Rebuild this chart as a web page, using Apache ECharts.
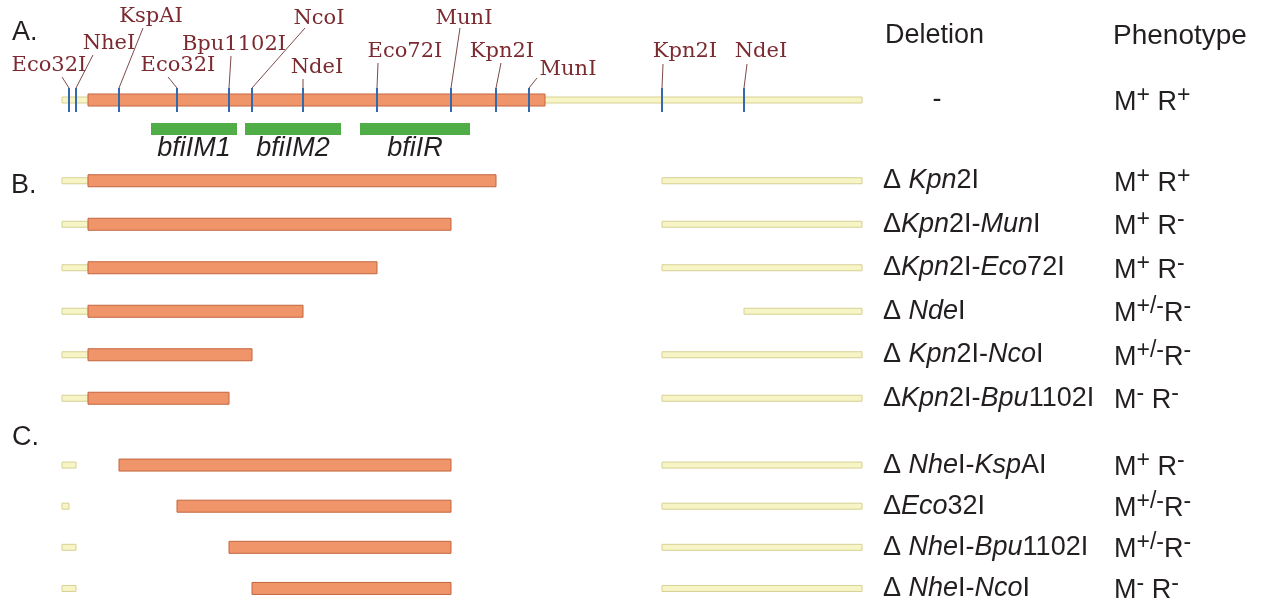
<!DOCTYPE html>
<html lang="en">
<head>
<meta charset="UTF-8">
<title>bfiI deletion map</title>
<style>
    html, body { margin: 0; padding: 0; background: #fff; }
    #chart { width: 1269px; height: 609px; }
</style>
</head>
<body>
<div id="chart"></div>
<script src="https://cdn.jsdelivr.net/npm/echarts@6/dist/echarts.min.js"></script>
<script>
// positions along the map, in bp (vector line runs 0..8000)
var vectorEnd = 8000;
var insertStart = 260, insertEnd = 4830;

var siteNames = ['Eco32I', 'NheI', 'KspAI', 'Eco32I', 'Bpu1102I', 'NcoI', 'NdeI', 'Eco72I', 'MunI', 'Kpn2I', 'MunI', 'Kpn2I', 'NdeI'];
var sitePos = [70, 140, 570, 1150, 1670, 1900, 2410, 3150, 3890, 4340, 4670, 6000, 6820];

var geneNames = ['bfiIM1', 'bfiIM2', 'bfiIR'];
var geneStart = [890, 1830, 2980];
var geneEnd = [1750, 2790, 4080];

// A: intact construct
var rowsA = ['{c|-}'];
var phenoA = [['+', '+']];

// B: deletions from the right end of the insert
var rowsB = ['Δ {i|Kpn}2I', 'Δ{i|Kpn}2I-{i|Mun}I', 'Δ{i|Kpn}2I-{i|Eco}72I', 'Δ {i|Nde}I', 'Δ {i|Kpn}2I-{i|Nco}I', 'Δ{i|Kpn}2I-{i|Bpu}1102I'];
var bInsertTo = [4340, 3890, 3150, 2410, 1900, 1670];
var bVectorFrom = [6000, 6000, 6000, 6820, 6000, 6000];
var phenoB = [['+', '+'], ['+', '-'], ['+', '-'], ['+/-', '-'], ['+/-', '-'], ['-', '-']];

// C: deletions from the left end (on top of MunI-Kpn2I)
var rowsC = ['Δ {i|Nhe}I-{i|Ksp}AI', 'Δ{i|Eco}32I', 'Δ {i|Nhe}I-{i|Bpu}1102I', 'Δ {i|Nhe}I-{i|Nco}I'];
var cVectorTo = [140, 70, 140, 140];
var cInsertFrom = [570, 1150, 1670, 1900];
var cInsertTo = 3890, cVectorFrom = 6000;
var phenoC = [['+', '-'], ['+/-', '-'], ['+/-', '-'], ['-', '-']];

// label placement for the restriction sites: [label dx, label dy, leader dx, leader dy]
var siteLabelLayout = [
    [-20, -34, -7, -23], [33, -56, 17, -45], [32, -83, 24, -72], [1, -34, -9, -23],
    [5, -55, 2, -44], [67, -81, 53, -72], [14, -32, 0, -21], [28, -48, 1, -37],
    [13, -81, 9, -72], [6, -48, 5, -37], [39, -30, 8, -22], [23, -48, 1, -36], [17, -48, 3, -36]
];

var sans = '"Liberation Sans", Arial, sans-serif';
var serif = '"DejaVu Serif", Georgia, serif';
var ink = '#231f20';

// build segments [from, to, row]
var vecA = [[0, vectorEnd, 0]], insA = [[insertStart, insertEnd, 0]];
var vecB = [], insB = [], vecC = [], insC = [];
for (var i = 0; i < rowsB.length; i++) {
    vecB.push([0, insertStart, i]);
    vecB.push([bVectorFrom[i], vectorEnd, i]);
    insB.push([insertStart, bInsertTo[i], i]);
}
for (var j = 0; j < rowsC.length; j++) {
    vecC.push([0, cVectorTo[j], j]);
    vecC.push([cVectorFrom, vectorEnd, j]);
    insC.push([cInsertFrom[j], cInsertTo, j]);
}

function barRender(h, fill, stroke) {
    return function (params, api) {
        var s = api.coord([api.value(0), api.value(2)]);
        var e = api.coord([api.value(1), api.value(2)]);
        return {
            type: 'rect',
            shape: {x: s[0], y: s[1] - h / 2, width: e[0] - s[0], height: h},
            style: {fill: fill, stroke: stroke, lineWidth: 1}
        };
    };
}

function segSeries(grid, data, kind) {
    var isIns = kind === 'insert';
    return {
        type: 'custom',
        xAxisIndex: grid,
        yAxisIndex: grid * 2,
        encode: {x: [0, 1], y: 2},
        z: isIns ? 3 : 2,
        renderItem: isIns ? barRender(12, '#f0956a', '#c2663f') : barRender(6, '#f7f4c6', '#d6d193'),
        data: data
    };
}

function phenoText(p) {
    var gap = p[0] === '+/-' ? '' : ' ';
    return '{m|M}{s|' + p[0] + '}{m|' + gap + 'R}{s|' + p[1] + '}';
}

function rowAxes(grid, names, phenos) {
    return [{
        gridIndex: grid, type: 'category', data: names, inverse: true, position: 'right',
        axisLine: {show: false}, axisTick: {show: false}, splitLine: {show: false},
        axisLabel: {
            interval: 0, margin: 21, align: 'left', color: ink, fontFamily: sans, fontSize: 27,
            rich: {
                i: {fontStyle: 'italic', fontFamily: sans, fontSize: 27, color: ink},
                c: {width: 108, align: 'center', fontFamily: sans, fontSize: 27, color: ink}
            }
        }
    }, {
        gridIndex: grid, type: 'category', data: names, inverse: true, position: 'right', offset: 252,
        axisLine: {show: false}, axisTick: {show: false}, splitLine: {show: false},
        axisLabel: {
            interval: 0, margin: 0, align: 'left',
            formatter: function (v, idx) { return phenoText(phenos[idx]); },
            rich: {
                m: {fontFamily: sans, fontSize: 27, color: ink, lineHeight: 32, verticalAlign: 'bottom'},
                s: {fontFamily: sans, fontSize: 23, color: ink, lineHeight: 14, verticalAlign: 'top'}
            }
        }
    }];
}

var sitesData = sitePos.map(function (p, k) { return [p, 0, k]; });
var genesData = geneStart.map(function (s, k) { return [s, geneEnd[k], 0, k]; });

var chart = echarts.init(document.getElementById('chart'));
var option = {
    backgroundColor: '#fff',
    animation: false,
    grid: [
        {left: 62, width: 800, top: 88, height: 24},
        {left: 62, width: 800, top: 159, height: 261},
        {left: 62, width: 800, top: 444.5, height: 172}
    ],
    xAxis: [0, 1, 2].map(function (g) {
        return {gridIndex: g, type: 'value', min: 0, max: vectorEnd, show: false};
    }),
    yAxis: [].concat(rowAxes(0, rowsA, phenoA), rowAxes(1, rowsB, phenoB), rowAxes(2, rowsC, phenoC)),
    graphic: [
        {type: 'text', x: 12, y: 33, style: {text: 'A.', font: '27px ' + sans, fill: ink, verticalAlign: 'middle'}},
        {type: 'text', x: 11, y: 186, style: {text: 'B.', font: '27px ' + sans, fill: ink, verticalAlign: 'middle'}},
        {type: 'text', x: 12, y: 438, style: {text: 'C.', font: '27px ' + sans, fill: ink, verticalAlign: 'middle'}},
        {type: 'text', x: 885, y: 36, style: {text: 'Deletion', font: '27px ' + sans, fill: ink, verticalAlign: 'middle'}},
        {type: 'text', x: 1113, y: 36, style: {text: 'Phenotype', font: '28px ' + sans, fill: ink, verticalAlign: 'middle'}}
    ],
    series: [
        segSeries(0, vecA, 'vector'),
        segSeries(0, insA, 'insert'),
        segSeries(1, vecB, 'vector'),
        segSeries(1, insB, 'insert'),
        segSeries(2, vecC, 'vector'),
        segSeries(2, insC, 'insert'),
        {
            // genes under the map
            type: 'custom', xAxisIndex: 0, yAxisIndex: 0, z: 3,
            encode: {x: [0, 1], y: 2},
            data: genesData,
            renderItem: function (params, api) {
                var s = api.coord([api.value(0), api.value(2)]);
                var e = api.coord([api.value(1), api.value(2)]);
                return {
                    type: 'group',
                    children: [{
                        type: 'rect',
                        shape: {x: s[0], y: s[1] + 23, width: e[0] - s[0], height: 12},
                        style: {fill: '#4fae47'}
                    }, {
                        type: 'text', x: (s[0] + e[0]) / 2, y: s[1] + 48,
                        style: {text: geneNames[api.value(3)], font: 'italic 27px ' + sans, fill: ink, align: 'center', verticalAlign: 'middle'}
                    }]
                };
            }
        },
        {
            // restriction sites
            type: 'custom', xAxisIndex: 0, yAxisIndex: 0, z: 4,
            encode: {x: 0, y: 1},
            data: sitesData,
            renderItem: function (params, api) {
                var p = api.coord([api.value(0), api.value(1)]);
                var L = siteLabelLayout[api.value(2)];
                return {
                    type: 'group',
                    children: [{
                        type: 'line',
                        shape: {x1: p[0], y1: p[1] - 12, x2: p[0], y2: p[1] + 12},
                        style: {stroke: '#3569ad', lineWidth: 2}
                    }, {
                        type: 'line',
                        shape: {x1: p[0], y1: p[1] - 12, x2: p[0] + L[2], y2: p[1] + L[3]},
                        style: {stroke: '#7d4b4b', lineWidth: 1}
                    }, {
                        type: 'text', x: p[0] + L[0], y: p[1] + L[1],
                        style: {text: siteNames[api.value(2)], font: '21px ' + serif, fill: '#7b2a30', align: 'center', verticalAlign: 'middle'}
                    }]
                };
            }
        }
    ]
};
chart.setOption(option);
</script>
</body>
</html>
